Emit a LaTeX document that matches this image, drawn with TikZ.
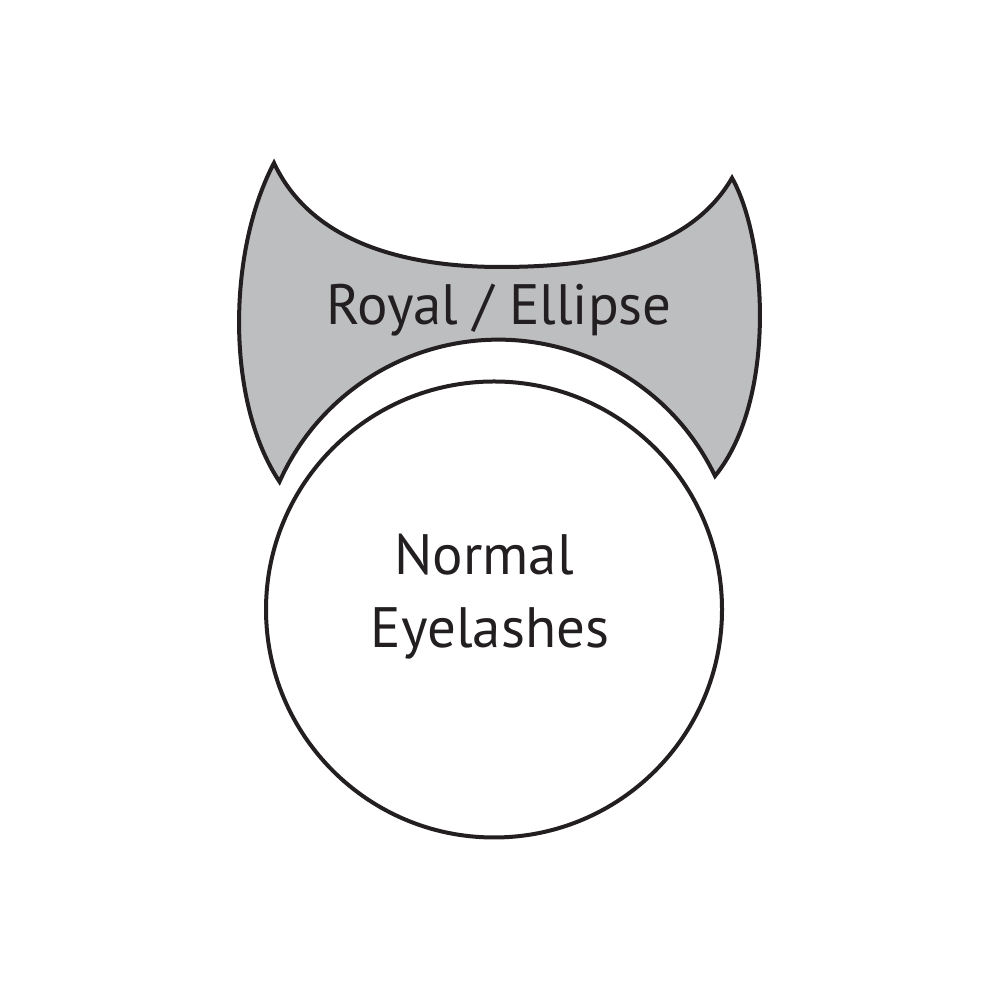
\documentclass[tikz,border=0pt]{standalone}
\usepackage{fontspec}
\setmainfont{PT Sans}
\definecolor{shapegray}{RGB}{188,190,192}
\definecolor{ink}{RGB}{35,31,32}
\begin{document}
\begin{tikzpicture}
\tikzset{
  outline/.style={draw=ink, line width=0.04cm, line join=miter},
  lbl/.style={inner sep=0pt, anchor=base, text=ink, font=\fontsize{16.2}{20}\selectfont},
}
\useasboundingbox (0,0) rectangle (10,10);
\fill[white] (0,0) rectangle (10,10);
% gray shape
\path[outline, fill=shapegray]
  (2.74,8.37) .. controls (3.10,7.60) and (4.00,7.33) .. (5.00,7.33)
  .. controls (6.00,7.33) and (6.90,7.50) .. (7.32,8.22)
  .. controls (7.67,7.60) and (7.77,6.00) .. (7.15,5.24)
  arc[start angle=25.6, end angle=155.9, radius=2.40]
  .. controls (2.25,6.00) and (2.28,7.50) .. (2.74,8.37) -- cycle;
% circle
\node[outline, circle, minimum size=4.56cm, inner sep=0pt] (circ) at (4.94,3.905) {};
\node[lbl] (royal) at (4.99,6.75) {Royal / Ellipse};
\node[lbl] (normal) at (4.84,4.25) {Normal};
\node[lbl] (eyel) at (4.90,3.52) {Eyelashes};
\end{tikzpicture}
\end{document}
